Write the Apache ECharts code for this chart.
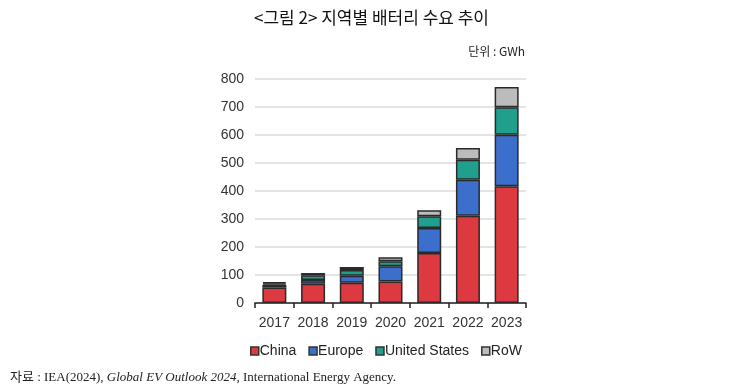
<!DOCTYPE html>
<html><head><meta charset="utf-8">
<script src="https://cdn.jsdelivr.net/npm/echarts@6/dist/echarts.min.js"></script>
<style>html,body{margin:0;padding:0;background:#fff}#c{width:743px;height:391px}</style>
</head><body><div id="c"></div>
<script>
const categories = ['2017','2018','2019','2020','2021','2022','2023'];
const china = [55, 69, 72, 77, 179, 312, 417];
const europe = [10, 13, 25, 54, 89, 128, 184];
const unitedStates = [5, 17, 21, 18, 42, 72, 98];
const row = [4, 8, 11, 14, 21, 42, 72];
const yTicks = [0, 100, 200, 300, 400, 500, 600, 700, 800];

const chart = echarts.init(document.getElementById('c'));
const colors = {China:'#dc3a40', Europe:'#3b6fcb', 'United States':'#1f9f8c', RoW:'#bcbcbc'};
function s(name, data){
  return {name, type:'bar', stack:'t', data, barWidth:'62%',
    itemStyle:{color:colors[name], borderColor:'#2a2a2a', borderWidth:1.5}};
}
chart.setOption({
  animation:false,
  title:[
    {text:'<그림 2> 지역별 배터리 수요 추이', left:'center', top:4,
     textStyle:{fontFamily:'Noto Sans CJK KR', fontSize:17, fontWeight:'normal', color:'#111'}},
    {text:'단위 : GWh', right:213, top:40,
     textStyle:{fontFamily:'Noto Sans CJK KR', fontSize:12, fontWeight:'normal', color:'#222'}},
    {text:'{a|자료 : IEA(2024), }{b|Global EV Outlook 2024}{a|, International Energy Agency.}', left:5, top:366,
     textStyle:{rich:{
       a:{fontFamily:'Liberation Serif, Noto Sans CJK KR', fontSize:13, fontWeight:'normal', color:'#222'},
       b:{fontFamily:'Liberation Serif', fontStyle:'italic', fontSize:13, fontWeight:'normal', color:'#222'}}}}
  ],
  legend:{left:245, top:339, itemWidth:8, itemHeight:8, itemGap:12,
    textStyle:{fontFamily:'Liberation Sans', fontSize:14, color:'#222', padding:[0,0,0,-4]},
    icon:'rect', data:['China','Europe','United States','RoW'],
    itemStyle:{borderColor:'#333', borderWidth:1.5}},
  grid:{left:255, right:217, top:79, bottom:88},
  xAxis:{type:'category', data:categories,
    axisLine:{lineStyle:{color:'#222', width:1.5}},
    axisTick:{show:true, alignWithLabel:false, interval:0, length:5, lineStyle:{color:'#222', width:1.5}},
    axisLabel:{interval:0, fontFamily:'Liberation Sans', fontSize:14, color:'#333', margin:13}},
  yAxis:{type:'value', min:yTicks[0], max:yTicks[yTicks.length-1], interval:100,
    axisLine:{show:false}, axisTick:{show:false},
    splitLine:{lineStyle:{color:'#e4e4e4', width:2}},
    axisLabel:{fontFamily:'Liberation Sans', fontSize:14, color:'#333', margin:11}},
  series:[s('China',china), s('Europe',europe), s('United States',unitedStates), s('RoW',row)]
});
</script></body></html>
